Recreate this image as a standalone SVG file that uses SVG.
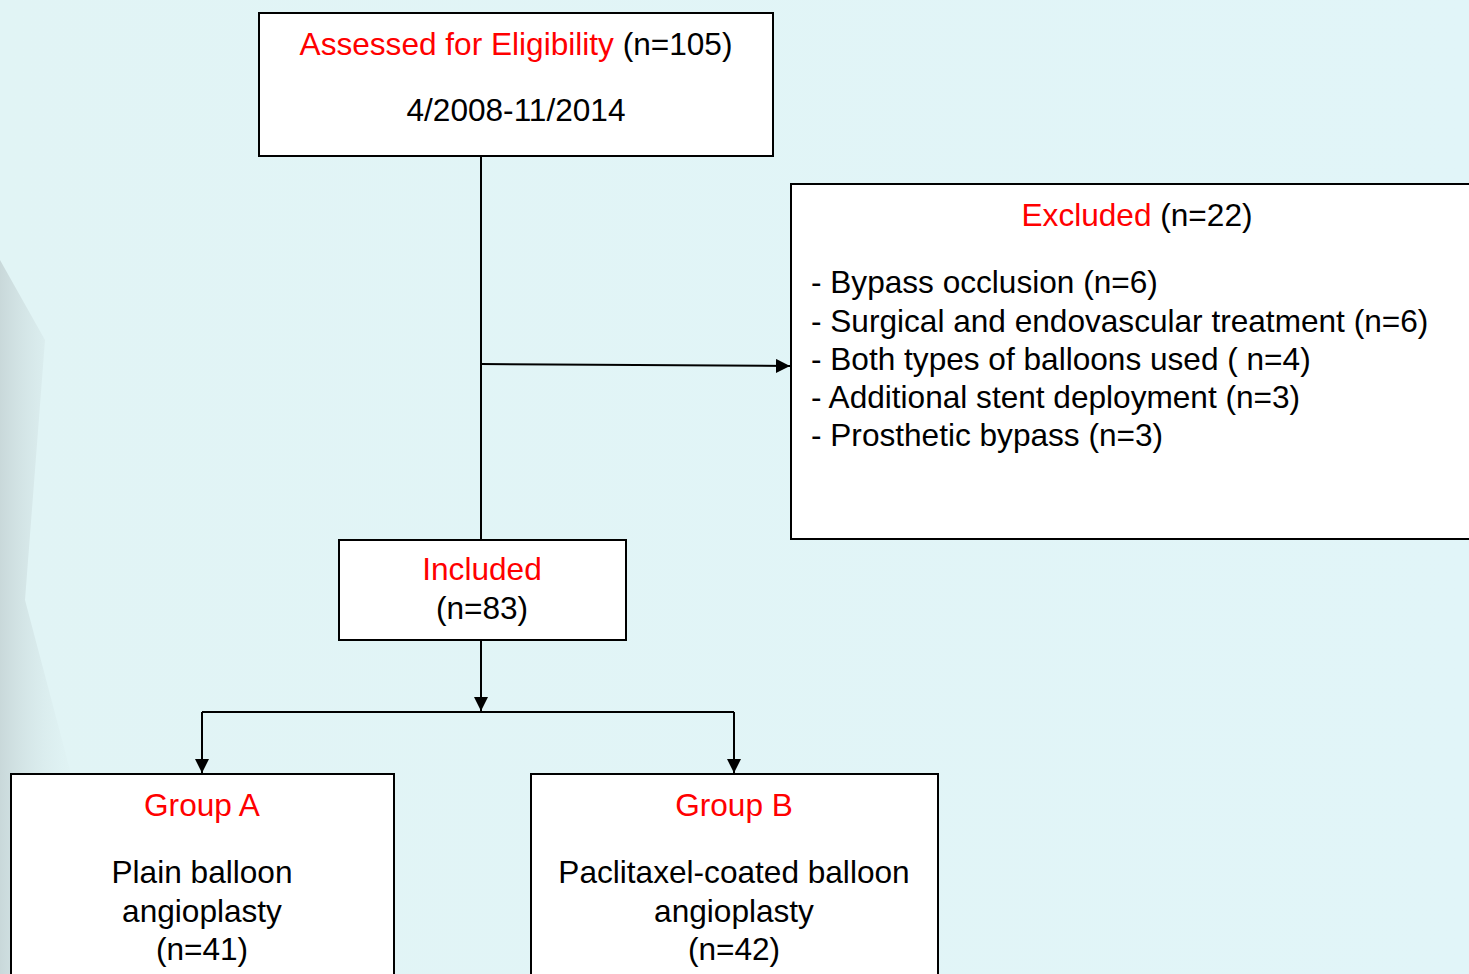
<svg xmlns="http://www.w3.org/2000/svg" width="1469" height="974" viewBox="0 0 1469 974">
<defs>
<linearGradient id="bg" x1="0" y1="0" x2="1" y2="0">
<stop offset="0" stop-color="#e1f4f5"/>
<stop offset="1" stop-color="#e1f5f8"/>
</linearGradient>
<linearGradient id="edge" x1="0" y1="0" x2="1" y2="0">
<stop offset="0" stop-color="#b9c6c8" stop-opacity="0.6"/>
<stop offset="1" stop-color="#e1f4f5" stop-opacity="0"/>
</linearGradient>
<marker id="ah" viewBox="0 0 14 14" refX="14" refY="7" markerWidth="14" markerHeight="14" markerUnits="userSpaceOnUse" orient="auto">
<path d="M0,0 L14,7 L0,14 Z" fill="#000"/>
</marker>
<style>
.box{fill:#fff;stroke:#000;stroke-width:2}
.t{font-family:"Liberation Sans",Arial,sans-serif;font-size:31.6px;fill:#000}
.c{text-anchor:middle}
.r{fill:#ff0000}
.ln{stroke:#000;stroke-width:2;fill:none}
.arr{stroke:#000;stroke-width:2;fill:none;marker-end:url(#ah)}
</style>
</defs>
<rect width="1469" height="974" fill="url(#bg)"/>
<path d="M0,260 L45,340 L25,600 L70,770 L90,974 L0,974 Z" fill="url(#edge)"/>
<g id="connectors">
<line class="ln" x1="481" y1="156" x2="481" y2="540"/>
<path class="arr" d="M481,364 L790,366"/>
<line class="arr" x1="481" y1="640" x2="481" y2="711"/>
<path class="ln" d="M202,712 L734,712"/>
<line class="arr" x1="202" y1="712" x2="202" y2="773"/>
<line class="arr" x1="734" y1="712" x2="734" y2="773"/>
</g>
<g id="assessed">
<rect class="box" x="259" y="13" width="514" height="143"/>
<text class="t c" x="516" y="55"><tspan class="r">Assessed for Eligibility</tspan> (n=105)</text>
<text class="t c" x="516" y="121">4/2008-11/2014</text>
</g>
<g id="excluded">
<rect class="box" x="791" y="184" width="690" height="355"/>
<text class="t c" x="1137" y="226"><tspan class="r">Excluded</tspan> (n=22)</text>
<text class="t" x="811" y="293">- Bypass occlusion (n=6)</text>
<text class="t" x="811" y="332">- Surgical and endovascular treatment (n=6)</text>
<text class="t" x="811" y="370">- Both types of balloons used ( n=4)</text>
<text class="t" x="811" y="408">- Additional stent deployment (n=3)</text>
<text class="t" x="811" y="446">- Prosthetic bypass (n=3)</text>
</g>
<g id="included">
<rect class="box" x="339" y="540" width="287" height="100"/>
<text class="t c r" x="482" y="580">Included</text>
<text class="t c" x="482" y="619">(n=83)</text>
</g>
<g id="groupA">
<rect class="box" x="11" y="774" width="383" height="220"/>
<text class="t c r" x="202" y="816">Group A</text>
<text class="t c" x="202" y="883">Plain balloon</text>
<text class="t c" x="202" y="922">angioplasty</text>
<text class="t c" x="202" y="960">(n=41)</text>
</g>
<g id="groupB">
<rect class="box" x="531" y="774" width="407" height="220"/>
<text class="t c r" x="734" y="816">Group B</text>
<text class="t c" x="734" y="883">Paclitaxel-coated balloon</text>
<text class="t c" x="734" y="922">angioplasty</text>
<text class="t c" x="734" y="960">(n=42)</text>
</g>
</svg>
